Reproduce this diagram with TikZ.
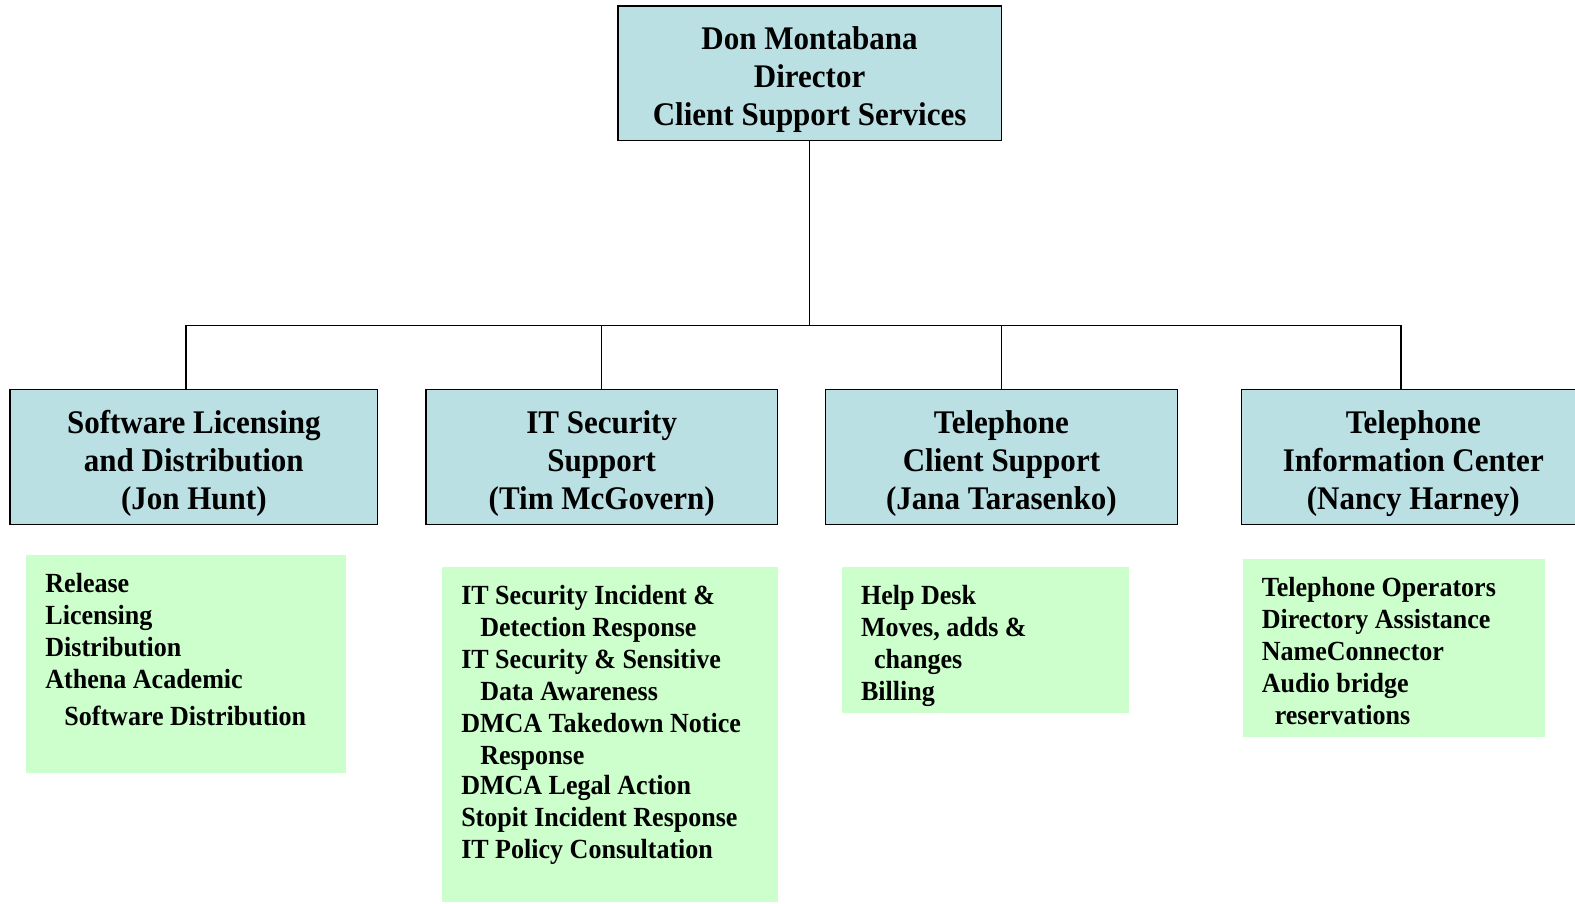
\documentclass[tikz,border=0pt]{standalone}
\usepackage{fontspec}
\setmainfont[FakeStretch=0.94]{Liberation Serif}
\definecolor{headblue}{HTML}{BBE0E3}
\definecolor{listgreen}{HTML}{CCFFCC}
\newcommand{\headfont}{\fontsize{33}{38}\selectfont\bfseries}
\newcommand{\listfont}{\fontsize{27.7}{32}\selectfont\bfseries}
\newcommand{\ind}[1]{\hspace*{#1pt}}
\newcommand{\headtop}{\rule{0pt}{36pt}}

\tikzset{
  headbox/.style={draw=black, line width=1.5pt, fill=headblue, minimum height=134.6pt,
    inner sep=0pt, align=center, font=\headfont},
  listbox/.style={fill=listgreen, inner sep=0pt, anchor=north west},
  listtext/.style={anchor=north west, align=left, inner sep=0pt, font=\listfont},
  wire/.style={line width=1.5pt}
}

\begin{document}
\begin{tikzpicture}[x=1.00446pt,y=-1.00446pt]
  % Page
  \clip (0,0) rectangle (1568,899);

  % Director
  \node[headbox, minimum width=383.7pt] (dir) at (806,73) {\headtop Don Montabana\\Director\\Client Support Services};

  % Groups
  \node[headbox, minimum width=367.6pt] (swl) at (193,455) {\headtop Software Licensing\\and Distribution\\(Jon Hunt)};
  \node[headbox, minimum width=351.6pt] (its) at (599,455) {\headtop IT Security\\Support\\(Tim McGovern)};
  \node[headbox, minimum width=351.6pt] (tcs) at (997,455) {\headtop Telephone\\Client Support\\(Jana Tarasenko)};
  \node[headbox, minimum width=343.5pt] (tic) at (1407,455) {\headtop Telephone\\Information Center\\(Nancy Harney)};

  % Connectors
  \coordinate (bus) at (806,324);
  \coordinate (d1) at (185,324);
  \coordinate (d4) at (1395,324);
  \draw[wire] (dir.south) -- (bus);
  \draw[wire] (d1) -- (d4);
  \draw[wire] (d1) -- (d1 |- swl.north);
  \draw[wire] (its.north |- bus) -- (its.north);
  \draw[wire] (tcs.north |- bus) -- (tcs.north);
  \draw[wire] (d4) -- (d4 |- tic.north);

  % Duties
  \node[listbox, minimum width=319.4pt, minimum height=218pt] (swl-list) at (26,552) {};
  \node[listtext] (swl-text) at (45,567.3) {\strut Release\\Licensing\\Distribution\\Athena Academic\\[5pt]\ind{19}Software Distribution};

  \node[listbox, minimum width=335.5pt, minimum height=335.5pt] (its-list) at (440,564) {};
  \node[listtext] (its-text) at (459,579.3) {\strut IT Security Incident \&\\\ind{19}Detection Response\\IT Security \& Sensitive\\\ind{19}Data Awareness\\DMCA Takedown Notice\\\ind{19}Response\\[-2pt]DMCA Legal Action\\Stopit Incident Response\\IT Policy Consultation};

  \node[listbox, minimum width=287.3pt, minimum height=146.7pt] (tcs-list) at (838,564) {};
  \node[listtext] (tcs-text) at (857,579.3) {\strut Help Desk\\Moves, adds \&\\\ind{13}changes\\Billing};

  \node[listbox, minimum width=302.3pt, minimum height=178.8pt] (tic-list) at (1237,556) {};
  \node[listtext] (tic-text) at (1256,571.3) {\strut Telephone Operators\\Directory Assistance\\NameConnector\\Audio bridge\\\ind{13}reservations};
\end{tikzpicture}
\end{document}
